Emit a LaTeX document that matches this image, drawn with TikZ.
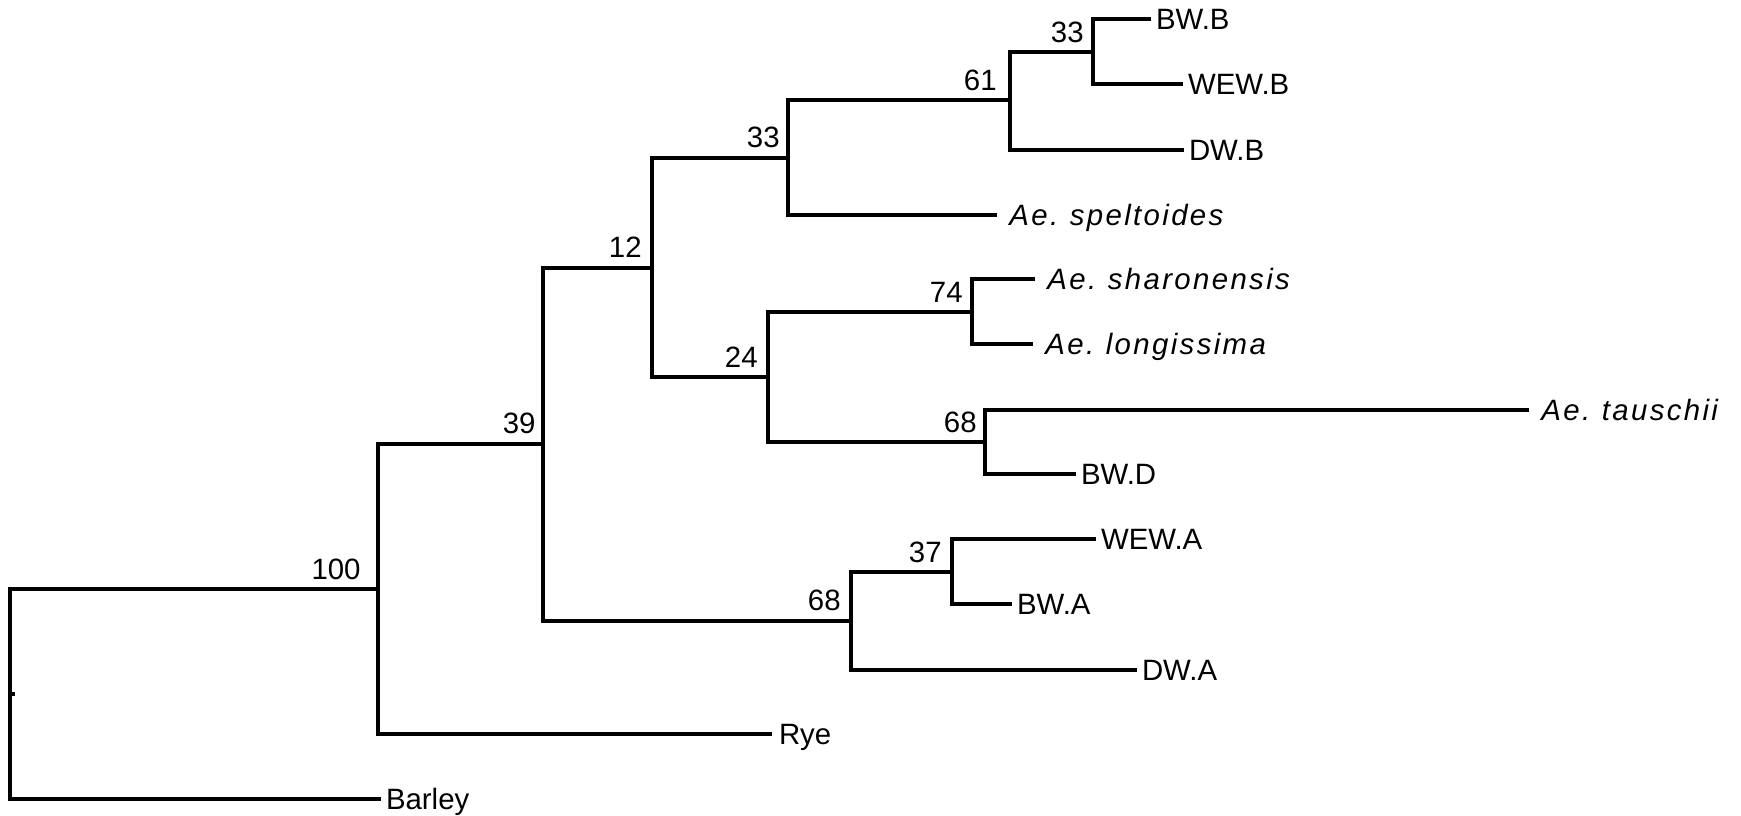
\documentclass[tikz,border=0pt]{standalone}
\usepackage{fontspec}
\setmainfont{Liberation Sans}
\begin{document}
\begin{tikzpicture}[x=0.5pt,y=-0.5pt,
  branch/.style={line width=1.65pt, line cap=rect},
  boot/.style={anchor=base east, inner sep=0pt, font=\fontsize{14.7}{16}\selectfont},
  leaf/.style={anchor=base west, inner sep=0pt, xshift=3.3pt, yshift=-5.2pt, font=\fontsize{14.7}{16}\selectfont},
  species/.style={anchor=base west, inner sep=0pt, xshift=7pt, yshift=-5.2pt, font=\fontsize{14.7}{16}\selectfont\itshape\addfontfeatures{LetterSpace=8}}]
\useasboundingbox (0,0) rectangle (1741,815);
% internal nodes
\coordinate (root) at (10,694);
\coordinate (n100) at (378,589);
\coordinate (n39) at (543,444);
\coordinate (n12) at (652,268);
\coordinate (n33b) at (788,158);
\coordinate (n61) at (1010,100);
\coordinate (n33a) at (1093,52);
\coordinate (n24) at (768,377);
\coordinate (n74) at (972,312);
\coordinate (n68u) at (985,442);
\coordinate (n68l) at (851,621);
\coordinate (n37) at (952,572);
% leaf ends
\coordinate (BWB) at (1149,19);
\coordinate (WEWB) at (1181,84);
\coordinate (DWB) at (1182,150);
\coordinate (spel) at (995,215);
\coordinate (shar) at (1033,279);
\coordinate (long) at (1031,344);
\coordinate (taus) at (1527,410);
\coordinate (BWD) at (1074,474);
\coordinate (WEWA) at (1094,539);
\coordinate (BWA) at (1010,604);
\coordinate (DWA) at (1135,670);
\coordinate (Rye) at (770,734);
\coordinate (Barley) at (379,799);
% branches
\draw[branch] (root) |- (n100);
\draw[branch] (root) |- (Barley);
\draw[branch] (root) -- ++(3,0);
\draw[branch] (n100) |- (n39);
\draw[branch] (n100) |- (Rye);
\draw[branch] (n39) |- (n12);
\draw[branch] (n39) |- (n68l);
\draw[branch] (n12) |- (n33b);
\draw[branch] (n12) |- (n24);
\draw[branch] (n33b) |- (n61);
\draw[branch] (n33b) |- (spel);
\draw[branch] (n61) |- (n33a);
\draw[branch] (n61) |- (DWB);
\draw[branch] (n33a) |- (BWB);
\draw[branch] (n33a) |- (WEWB);
\draw[branch] (n24) |- (n74);
\draw[branch] (n24) |- (n68u);
\draw[branch] (n74) |- (shar);
\draw[branch] (n74) |- (long);
\draw[branch] (n68u) |- (taus);
\draw[branch] (n68u) |- (BWD);
\draw[branch] (n68l) |- (n37);
\draw[branch] (n68l) |- (DWA);
\draw[branch] (n37) |- (WEWA);
\draw[branch] (n37) |- (BWA);
% leaf labels
\node[leaf] (tBWB) at (BWB) {BW.B};
\node[leaf] (tWEWB) at (WEWB) {WEW.B};
\node[leaf] (tDWB) at (DWB) {DW.B};
\node[species] (tspel) at (spel) {Ae.\hspace{-1.2pt} speltoides};
\node[species] (tshar) at (shar) {Ae.\hspace{-1.2pt} sharonensis};
\node[species] (tlong) at (long) {Ae.\hspace{-1.2pt} longissima};
\node[species] (ttaus) at (taus) {Ae.\hspace{-1.2pt} tauschii};
\node[leaf] (tBWD) at (BWD) {BW.D};
\node[leaf] (tWEWA) at (WEWA) {WEW.A};
\node[leaf] (tBWA) at (BWA) {BW.A};
\node[leaf] (tDWA) at (DWA) {DW.A};
\node[leaf, xshift=1pt] (tRye) at (Rye) {Rye};
\node[leaf] (tBarley) at (Barley) {Barley};
% bootstrap values
\node[boot] (b100) at (361,579) {100};
\node[boot] (b39) at (536,433) {39};
\node[boot] (b12) at (642,257) {12};
\node[boot] (b33b) at (780,147) {33};
\node[boot] (b61) at (997,90) {61};
\node[boot] (b33a) at (1084,42) {33};
\node[boot] (b74) at (963,302) {74};
\node[boot] (b24) at (758,367) {24};
\node[boot] (b68u) at (977,432) {68};
\node[boot] (b68l) at (841,610) {68};
\node[boot] (b37) at (942,562) {37};
\end{tikzpicture}
\end{document}
